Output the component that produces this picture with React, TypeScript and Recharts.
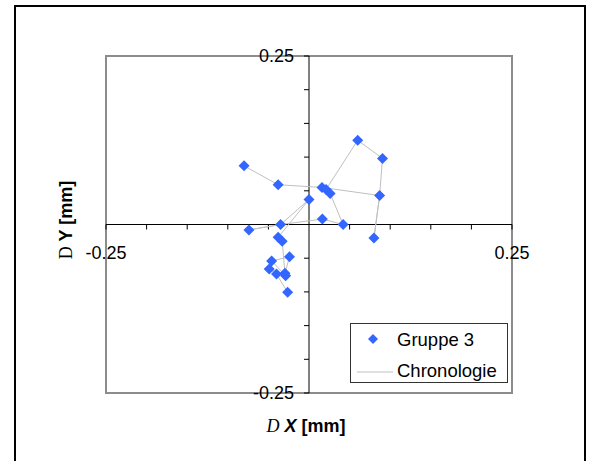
import React from 'react';
import {
  ScatterChart,
  Scatter,
  XAxis,
  YAxis,
  ReferenceLine,
  ReferenceArea,
  Legend
} from 'recharts';

// Gruppe 3 displacement points (mm)
const dxValues = [
  -0.080, -0.038, 0.016, 0.021, 0.026, 0.087, 0.0905, 0.060, 0.080, 0.042, 0.0165, -0.035,
  -0.074, 0.0, -0.038, -0.033, -0.024, -0.046, -0.049, -0.040, -0.0296, -0.0288, -0.0263
];
const dyValues = [
  0.087, 0.059, 0.055, 0.052, 0.046, 0.043, 0.098, 0.125, -0.020, 0.0, 0.008, 0.0,
  -0.008, 0.037, -0.019, -0.025, -0.048, -0.054, -0.066, -0.0735, -0.0725, -0.076, -0.1006
];
// order of the points in time (indices into the arrays above)
const chronologyOrder = [0, 1, 2, 5, 8, 5, 6, 7, 3, 4, 9, 10, 11, 12, 11, 13, 14, 15, 20, 16, 17, 21, 18, 19, 22];

const axisTicks = [-0.25, -0.2, -0.15, -0.1, -0.05, 0.05, 0.1, 0.15, 0.2, 0.25];
const tickLabels: Record<string, string> = { '-0.25': '-0.25', '0.25': '0.25' };

const BLUE = '#3366ff';
const GREY_LINE = '#c0c0c0';
const FONT = '"Liberation Sans", Arial, sans-serif';

const points = dxValues.map((x, i) => ({ x, y: dyValues[i] }));
const chronology = chronologyOrder.map(i => points[i]);

const Diamond = (props: any) => {
  const { cx, cy } = props;
  if (cx == null || cy == null) return <g />;
  const r = 5.5;
  return <polygon points={`${cx},${cy - r} ${cx + r},${cy} ${cx},${cy + r} ${cx - r},${cy}`} fill={BLUE} />;
};

const NoShape = () => <g />;

const makeXTick = (v: number) => (props: any) => {
  const { x1, y1, y2 } = props;
  const mid = (y1 + y2) / 2;
  const label = tickLabels[String(v)];
  return (
    <g>
      <line x1={x1} x2={x1} y1={mid} y2={mid + 5} stroke="#000" strokeWidth={1} />
      {label && (
        <text x={x1} y={mid + 28} textAnchor="middle" dominantBaseline="central" fontFamily={FONT} fontSize={18} fill="#000">
          {label}
        </text>
      )}
    </g>
  );
};

const makeYTick = (v: number) => (props: any) => {
  const { x1, x2, y1 } = props;
  const mid = (x1 + x2) / 2;
  const label = tickLabels[String(v)];
  return (
    <g>
      <line x1={mid - 5} x2={mid} y1={y1} y2={y1} stroke="#000" strokeWidth={1} />
      {label && (
        <text x={mid - 15} y={y1} textAnchor="end" dominantBaseline="central" fontFamily={FONT} fontSize={18} fill="#000">
          {label}
        </text>
      )}
    </g>
  );
};

const renderLegend = () => (
  <div
    style={{
      position: 'relative',
      width: 158,
      height: 60,
      boxSizing: 'border-box',
      border: '1.5px solid #333',
      background: '#fff',
      fontFamily: FONT,
      fontSize: 18.5
    }}
  >
    <svg width={20} height={20} style={{ position: 'absolute', left: 12, top: 5 }}>
      <polygon points="10,5 15,10 10,15 5,10" fill={BLUE} />
    </svg>
    <span style={{ position: 'absolute', left: 46, top: 5, lineHeight: '22px', whiteSpace: 'nowrap' }}>Gruppe 3</span>
    <svg width={40} height={4} style={{ position: 'absolute', left: 6, top: 46 }}>
      <line x1={0} x2={36} y1={2} y2={2} stroke={GREY_LINE} strokeWidth={1} />
    </svg>
    <span style={{ position: 'absolute', left: 46, top: 36, lineHeight: '22px', whiteSpace: 'nowrap' }}>Chronologie</span>
  </div>
);

export default function App() {
  return (
    <div style={{ position: 'absolute', left: 0, top: 0, width: 591, height: 461, overflow: 'hidden', background: '#fff' }}>
      <div
        style={{
          position: 'absolute',
          left: 14,
          top: 5,
          width: 572,
          height: 520,
          border: '2px solid #000',
          boxSizing: 'border-box'
        }}
      />
      <div style={{ position: 'absolute', left: 0, top: 0 }}>
        <ScatterChart width={591} height={461} margin={{ top: 56, right: 79, bottom: 68, left: 106 }}>
          <XAxis type="number" dataKey="x" domain={[-0.25, 0.25]} hide allowDataOverflow />
          <YAxis type="number" dataKey="y" domain={[-0.25, 0.25]} hide allowDataOverflow />
          <ReferenceArea x1={-0.25} x2={0.25} y1={-0.25} y2={0.25} fill="none" stroke="#8c8c8c" strokeWidth={2} fillOpacity={0} />
          <ReferenceLine x={0} stroke="#000" strokeWidth={1} />
          <ReferenceLine y={0} stroke="#000" strokeWidth={1} />
          {axisTicks.map(v => (
            <ReferenceLine key={`xt-${v}`} x={v} stroke="none" shape={makeXTick(v)} />
          ))}
          {axisTicks.map(v => (
            <ReferenceLine key={`yt-${v}`} y={v} stroke="none" shape={makeYTick(v)} />
          ))}
          <Scatter
            name="Chronologie"
            data={chronology}
            line={{ stroke: GREY_LINE, strokeWidth: 1 }}
            shape={NoShape}
            legendType="line"
            isAnimationActive={false}
          />
          <Scatter name="Gruppe 3" data={points} fill={BLUE} shape={Diamond} legendType="diamond" isAnimationActive={false} />
          <Legend
            layout="vertical"
            align="center"
            verticalAlign="middle"
            content={renderLegend}
            wrapperStyle={{ left: 350, top: 323, width: 158, height: 60 }}
          />
        </ScatterChart>
      </div>
      <div
        style={{
          position: 'absolute',
          left: 66,
          top: 220,
          transform: 'translate(-50%, -50%) rotate(-90deg)',
          whiteSpace: 'nowrap',
          fontSize: 18
        }}
      >
        <span style={{ fontFamily: '"Liberation Serif", serif' }}>D</span>
        <span style={{ fontFamily: FONT, fontWeight: 'bold' }}> Y [mm]</span>
      </div>
      <div
        style={{
          position: 'absolute',
          left: 306,
          top: 426,
          transform: 'translate(-50%, -50%)',
          whiteSpace: 'nowrap',
          fontSize: 18
        }}
      >
        <span style={{ fontFamily: '"Liberation Serif", serif', fontStyle: 'italic' }}>D</span>
        <span style={{ fontFamily: FONT, fontWeight: 'bold', fontStyle: 'italic' }}>&nbsp;X</span>
        <span style={{ fontFamily: FONT, fontWeight: 'bold' }}> [mm]</span>
      </div>
    </div>
  );
}
